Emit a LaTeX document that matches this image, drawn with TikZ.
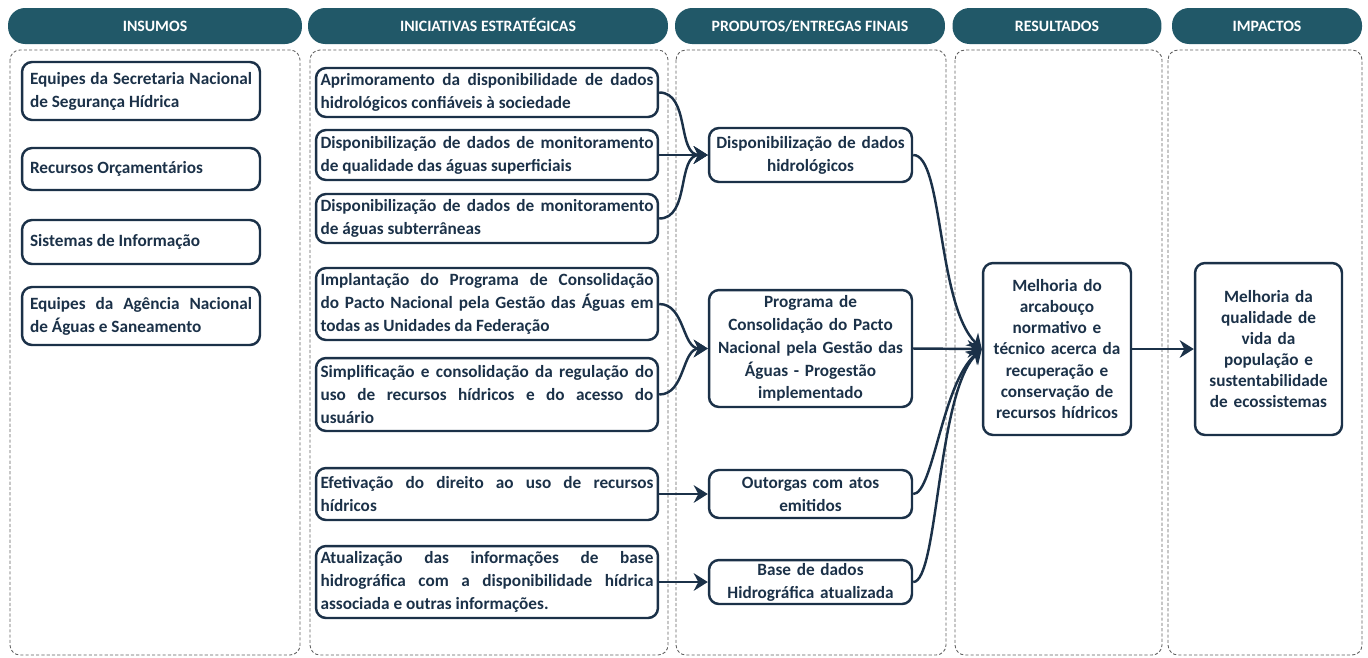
\documentclass[tikz,border=0pt]{standalone}
\usepackage{fontspec}
\setmainfont{Carlito}
\usetikzlibrary{arrows.meta}
\definecolor{headteal}{HTML}{215868}
\definecolor{inknavy}{HTML}{1B3148}
\definecolor{colgray}{HTML}{5F5F5F}
\begin{document}
\begin{tikzpicture}[x=0.02cm,y=-0.02cm,
        head/.style={fill=headteal,text=white,rounded corners=0.34cm,minimum height=0.72cm,text height=6.4pt,text depth=0pt,font=\fontsize{9}{10}\selectfont\bfseries},
        column/.style={draw=colgray,dash pattern=on 1.8pt off 1.2pt,line width=0.5pt,rounded corners=0.2cm},
        box/.style={draw=inknavy,line width=1.4pt,rounded corners=0.2cm,text=inknavy,inner ysep=0pt,font=\fontsize{9.8}{13}\selectfont\bfseries},
        inbox/.style={box,align=justify,text width=4.44cm,inner xsep=0.16cm},
        inibox/.style={box,align=justify,text width=6.66cm,inner xsep=0.09cm},
        prodbox/.style={box,align=center,text width=3.9cm,inner xsep=0.08cm},
        resbox/.style={box,align=center,text width=2.8cm,inner xsep=0.08cm,minimum height=3.44cm,font=\fontsize{9.8}{12}\selectfont\bfseries},
        link/.style={draw=inknavy,line width=1.4pt,-{Stealth[length=8pt,width=10pt]}}]
    \useasboundingbox (0,0) rectangle (1368,657);
    \draw[column] (10,50) rectangle (300,655);
    \draw[column] (310,50) rectangle (668,655);
    \draw[column] (676,50) rectangle (946,655);
    \draw[column] (955,50) rectangle (1162,655);
    \draw[column] (1168,50) rectangle (1362,655);
    \node[head,minimum width=5.88cm] (h1) at (155,26) {INSUMOS};
    \node[head,minimum width=7.2cm] (h2) at (488,26) {INICIATIVAS ESTRATÉGICAS};
    \node[head,minimum width=5.4cm] (h3) at (810,26) {PRODUTOS/ENTREGAS FINAIS};
    \node[head,minimum width=4.18cm] (h4) at (1057,26) {RESULTADOS};
    \node[head,minimum width=3.8cm] (h5) at (1267,26) {IMPACTOS};
    \node[inbox,minimum height=1.16cm] (a1) at (141,91) {Equipes da Secretaria Nacional\linebreak de Segurança Hídrica};
    \node[inbox,minimum height=0.84cm] (a2) at (141,169) {Recursos Orçamentários};
    \node[inbox,minimum height=0.88cm] (a3) at (141,242) {Sistemas de Informação};
    \node[inbox,minimum height=1.16cm] (a4) at (141,316) {Equipes da Agência Nacional\linebreak de Águas e Saneamento};
    \node[inibox,minimum height=0.98cm] (i1) at (487,92.5) {Aprimoramento da disponibilidade de dados\linebreak hidrológicos confiáveis à sociedade};
    \node[inibox,minimum height=1.0cm] (i2) at (487,155) {Disponibilização de dados de monitoramento\linebreak de qualidade das águas superficiais};
    \node[inibox,minimum height=0.98cm] (i3) at (487,218.5) {Disponibilização de dados de monitoramento\linebreak de águas subterrâneas};
    \node[inibox,minimum height=1.44cm] (i4) at (487,304) {Implantação do Programa de Consolidação\linebreak do Pacto Nacional pela Gestão das Águas em\linebreak todas as Unidades da Federação};
    \node[inibox,minimum height=1.46cm] (i5) at (487,394.5) {Simplificação e consolidação da regulação do\linebreak uso de recursos hídricos e do acesso do\linebreak usuário};
    \node[inibox,minimum height=1.04cm] (i6) at (487,494) {Efetivação do direito ao uso de recursos\linebreak hídricos};
    \node[inibox,minimum height=1.44cm] (i7) at (487,582) {Atualização das informações de base\linebreak hidrográfica com a disponibilidade hídrica\linebreak associada e outras informações.};
    \node[prodbox,minimum height=1.08cm] (p1) at (810.5,155) {Disponibilização de dados\\hidrológicos};
    \node[prodbox,minimum height=2.34cm] (p2) at (810.5,348.5) {Programa de\\Consolidação do Pacto\\Nacional pela Gestão das\\Águas - Progestão\\implementado};
    \node[prodbox,minimum height=0.96cm] (p3) at (810.5,494) {Outorgas com atos\\emitidos};
    \node[prodbox,minimum height=0.88cm] (p4) at (810.5,582) {Base de dados\\Hidrográfica atualizada};
    \node[resbox] (r1) at (1057,349) {Melhoria do\\arcabouço\\normativo e\\técnico acerca da\\recuperação e\\conservação de\\recursos hídricos};
    \node[resbox,text width=2.78cm] (m1) at (1268.5,349) {Melhoria da\\qualidade de\\vida da\\população e\\sustentabilidade\\de ecossistemas};
    \draw[link] (i1.east) to[out=0,in=180] (p1.west);
    \draw[link] (i2.east) -- (p1.west);
    \draw[link] (i3.east) to[out=0,in=180] (p1.west);
    \draw[link] (i4.east) to[out=0,in=180] (p2.west);
    \draw[link] (i5.east) to[out=0,in=180] (p2.west);
    \draw[link] (i6.east) -- (p3.west);
    \draw[link] (i7.east) -- (p4.west);
    \draw[link] (p1.east) .. controls +(30,0) and +(-45,-45) .. (r1.west);
    \draw[link] (p2.east) -- (r1.west);
    \draw[link] (p3.east) .. controls +(20,0) and +(-40,35) .. (r1.west);
    \draw[link] (p4.east) .. controls +(25,0) and +(-45,45) .. (r1.west);
    \draw[link] (r1.east) -- (m1.west);
\end{tikzpicture}
\end{document}
